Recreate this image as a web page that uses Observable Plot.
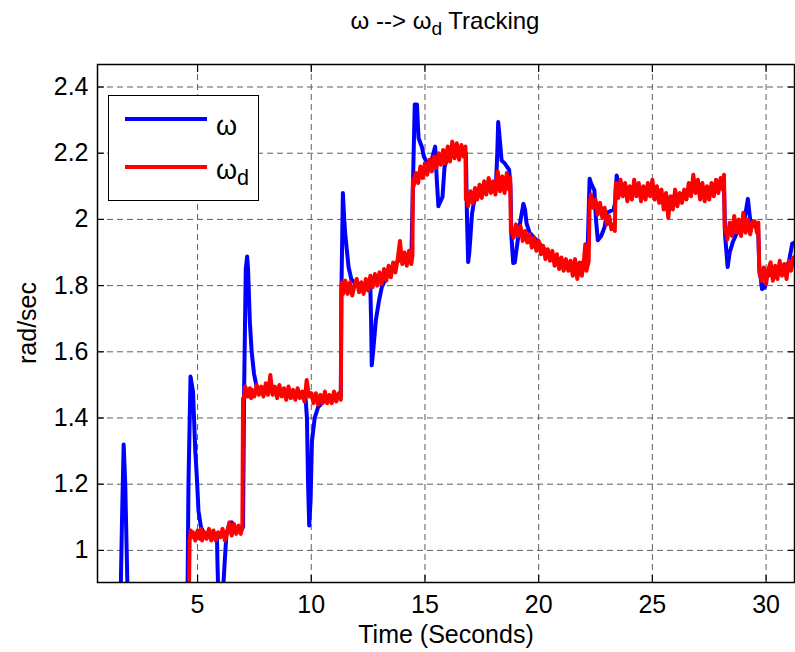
<!DOCTYPE html>
<html>
<head>
<meta charset="utf-8">
<script src="https://cdn.jsdelivr.net/npm/d3@7"></script>
<script src="https://cdn.jsdelivr.net/npm/@observablehq/plot@0.6"></script>
<style>
  html, body { margin: 0; padding: 0; background: #fff; }
  #wrap { position: relative; width: 795px; height: 652px; overflow: hidden; font-family: "Liberation Sans", Arial, sans-serif; }
  #wrap svg { position: absolute; left: 0; top: 0; }
  .lbl { position: absolute; color: #000; white-space: nowrap; line-height: 1; }
  #title { left: 0; width: 890px; top: 9px; text-align: center; font-size: 24px; }
  #xlabel { left: 97px; width: 698px; top: 622px; text-align: center; font-size: 25px; }
  #ylabel { left: 27px; top: 323px; font-size: 25px; transform: translate(-50%, -50%) rotate(-90deg); }
  #legend { position: absolute; left: 108px; top: 95px; width: 151px; height: 106px; box-sizing: border-box; border: 1.5px solid #000; background: #fff; }
  .sw { position: absolute; left: 16px; width: 82px; height: 4px; }
  .lt { position: absolute; left: 107px; font-size: 27px; line-height: 1; }
  sub { font-size: 0.8em; vertical-align: -0.3em; line-height: 0; }
</style>
</head>
<body>
<div id="wrap">
  <div id="chart"></div>
  <div id="title" class="lbl">ω --&gt; ω<sub>d</sub> Tracking</div>
  <div id="xlabel" class="lbl">Time (Seconds)</div>
  <div id="ylabel" class="lbl">rad/sec</div>
  <div id="legend">
    <div class="sw" style="top:21px;background:#0000ff"></div>
    <div class="lt" style="top:17px">ω</div>
    <div class="sw" style="top:69px;background:#ff0000"></div>
    <div class="lt" style="top:61px">ω<sub>d</sub></div>
  </div>
</div>
<script>
// x tick values (seconds) and y tick values (rad/sec)
const xTicks = [5, 10, 15, 20, 25, 30];
const yTicks = [1, 1.2, 1.4, 1.6, 1.8, 2, 2.2, 2.4];

// measured speed ω : [time, rad/sec]
const omega = [
  [0.6,0.8],[1.6,0.8],[1.68,1.1],[1.75,1.32],[1.82,1.2],[1.93,0.85],[2.5,0.8],[4.55,0.8],
  [4.6,1.2],[4.69,1.525],[4.8,1.48],[4.9,1.3],[4.97,1.22],[5.04,1.12],[5.15,1.07],[5.3,1.05],
  [5.5,1.05],[5.7,1.045],[5.85,1.05],[5.88,0.95],[5.92,0.85],[6.1,0.85],[6.18,0.95],[6.27,1.05],
  [6.4,1.08],[6.5,1.085],[6.6,1.07],[6.75,1.06],[6.9,1.06],[7.0,1.07],[7.05,1.5],[7.12,1.85],
  [7.18,1.888],[7.22,1.85],[7.3,1.69],[7.38,1.6],[7.48,1.535],[7.58,1.5],[7.7,1.48],[8.0,1.485],
  [8.5,1.48],[9.0,1.475],[9.5,1.465],[9.75,1.46],[9.81,1.4],[9.86,1.2],[9.91,1.075],[9.97,1.15],
  [10.03,1.33],[10.15,1.4],[10.3,1.433],[10.4,1.44],[10.6,1.455],[11.0,1.46],[11.3,1.465],
  [11.33,1.8],[11.39,2.08],[11.45,2.0],[11.49,1.958],[11.64,1.856],[11.76,1.82],[12.0,1.8],
  [12.4,1.8],[12.6,1.79],[12.63,1.7],[12.66,1.559],[12.72,1.6],[12.84,1.695],[12.98,1.755],
  [13.1,1.795],[13.3,1.825],[13.6,1.855],[14.0,1.89],[14.4,1.88],[14.47,2.1],[14.55,2.347],
  [14.65,2.347],[14.7,2.27],[14.72,2.245],[14.87,2.218],[14.95,2.19],[15.1,2.17],[15.3,2.18],
  [15.45,2.22],[15.52,2.12],[15.59,2.04],[15.65,2.05],[15.77,2.067],[15.86,2.158],[16.0,2.19],
  [16.4,2.21],[16.8,2.2],[16.85,2.0],[16.9,1.871],[16.95,1.9],[17.07,2.018],[17.2,2.07],
  [17.6,2.09],[18.0,2.1],[18.12,2.1],[18.18,2.2],[18.22,2.294],[18.28,2.25],[18.37,2.178],
  [18.5,2.17],[18.7,2.15],[18.76,2.1],[18.8,1.95],[18.88,1.868],[18.95,1.87],[19.02,1.906],
  [19.2,1.997],[19.33,2.047],[19.4,2.03],[19.47,1.987],[19.6,1.96],[20.0,1.93],[20.5,1.89],
  [21.0,1.87],[21.5,1.86],[22.0,1.87],[22.15,1.9],[22.24,2.123],[22.3,2.11],[22.45,2.088],
  [22.52,2.0],[22.6,1.937],[22.75,1.95],[22.9,1.977],[23.0,2.02],[23.3,2.03],[23.36,2.05],
  [23.43,2.133],[23.55,2.098],[23.8,2.09],[24.5,2.08],[25.0,2.09],[25.5,2.06],[26.0,2.07],
  [26.5,2.08],[27.0,2.09],[27.5,2.09],[28.0,2.1],[28.15,2.1],[28.2,1.95],[28.31,1.856],
  [28.4,1.9],[28.53,1.93],[28.7,1.957],[29.0,1.98],[29.1,2.02],[29.2,2.062],[29.3,2.0],
  [29.5,1.98],[29.65,1.97],[29.7,1.86],[29.82,1.79],[29.95,1.795],[30.01,1.826],[30.3,1.84],
  [30.8,1.85],[31.0,1.87],[31.15,1.927],[31.25,1.93]
];

// desired speed ω_d : [time, rad/sec]
const omegaD = [
  [4.62,0.85],[4.65,1.03],[4.7,1.06],[4.75,1.04],[4.8,1.055],[4.9,1.03],[5.0,1.06],[5.1,1.035],
  [5.15,1.065],[5.2,1.03],[5.3,1.055],[5.4,1.035],[5.5,1.065],[5.6,1.03],[5.7,1.06],[5.8,1.03],
  [5.9,1.055],[6.0,1.04],[6.1,1.065],[6.2,1.03],[6.3,1.05],[6.4,1.085],[6.5,1.045],[6.6,1.08],
  [6.7,1.05],[6.8,1.075],[6.9,1.05],[6.97,1.07],[7.0,1.46],
  [7.05,1.46],[7.1,1.495],[7.2,1.465],[7.3,1.49],[7.35,1.46],[7.4,1.485],[7.5,1.465],[7.6,1.5],
  [7.7,1.47],[7.8,1.495],[7.9,1.465],[8.0,1.505],[8.1,1.47],[8.2,1.53],[8.3,1.47],[8.4,1.495],
  [8.5,1.46],[8.6,1.5],[8.7,1.465],[8.8,1.49],[8.9,1.455],[9.0,1.495],[9.1,1.46],[9.2,1.485],
  [9.3,1.455],[9.4,1.49],[9.5,1.46],[9.6,1.48],[9.7,1.45],[9.8,1.515],[9.9,1.465],[10.0,1.475],
  [10.1,1.445],[10.2,1.475],[10.3,1.44],[10.4,1.47],[10.5,1.445],[10.6,1.48],[10.7,1.445],
  [10.8,1.47],[10.9,1.445],[11.0,1.48],[11.1,1.45],[11.2,1.475],[11.3,1.455],[11.32,1.79],
  [11.35,1.81],[11.4,1.775],[11.5,1.815],[11.6,1.775],[11.7,1.81],[11.8,1.77],[11.9,1.8],
  [12.0,1.82],[12.1,1.78],[12.2,1.81],[12.3,1.775],[12.4,1.82],[12.5,1.785],[12.6,1.83],
  [12.7,1.795],[12.8,1.835],[12.9,1.8],[13.0,1.84],[13.1,1.805],[13.2,1.85],[13.3,1.815],
  [13.4,1.86],[13.5,1.825],[13.6,1.87],[13.7,1.84],[13.8,1.88],[13.9,1.935],[14.0,1.865],
  [14.1,1.9],[14.2,1.86],[14.3,1.905],[14.4,1.865],[14.45,1.89],[14.47,2.12],
  [14.5,2.1],[14.6,2.14],[14.7,2.11],[14.8,2.16],[14.9,2.125],[15.0,2.17],[15.1,2.135],
  [15.2,2.18],[15.3,2.145],[15.4,2.19],[15.5,2.155],[15.6,2.2],[15.7,2.165],[15.8,2.21],
  [15.9,2.17],[16.0,2.22],[16.1,2.175],[16.2,2.235],[16.3,2.185],[16.4,2.23],[16.5,2.18],
  [16.6,2.225],[16.7,2.19],[16.78,2.22],[16.8,2.06],
  [16.85,2.075],[16.9,2.04],[17.0,2.085],[17.1,2.05],[17.2,2.095],[17.3,2.06],[17.4,2.105],
  [17.5,2.065],[17.6,2.115],[17.7,2.075],[17.8,2.125],[17.9,2.08],[18.0,2.115],[18.1,2.075],
  [18.2,2.145],[18.3,2.085],[18.4,2.13],[18.5,2.08],[18.6,2.14],[18.7,2.09],[18.75,2.125],[18.78,1.96],
  [18.8,1.975],[18.9,1.945],[19.0,1.985],[19.1,1.95],[19.2,1.98],[19.3,1.935],[19.4,1.965],
  [19.5,1.93],[19.6,1.955],[19.7,1.915],[19.8,1.945],[19.9,1.905],[20.0,1.935],[20.1,1.895],
  [20.2,1.92],[20.3,1.88],[20.4,1.91],[20.5,1.875],[20.6,1.905],[20.7,1.86],[20.8,1.895],
  [20.9,1.85],[21.0,1.885],[21.1,1.845],[21.2,1.88],[21.3,1.845],[21.4,1.875],[21.5,1.83],
  [21.6,1.88],[21.7,1.82],[21.8,1.87],[21.9,1.83],[22.0,1.885],[22.05,1.925],[22.1,1.845],
  [22.2,1.875],[22.24,2.05],
  [22.3,2.075],[22.4,2.035],[22.5,2.06],[22.6,2.015],[22.7,2.05],[22.8,2.005],[22.9,2.035],
  [23.0,1.985],[23.1,2.01],[23.2,1.97],[23.3,1.985],[23.35,1.965],[23.38,2.09],
  [23.4,2.11],[23.5,2.065],[23.6,2.12],[23.7,2.07],[23.8,2.11],[23.9,2.055],[24.0,2.1],[24.1,2.06],
  [24.2,2.12],[24.3,2.07],[24.4,2.11],[24.5,2.055],[24.6,2.1],[24.7,2.06],[24.8,2.11],[24.9,2.07],
  [25.0,2.12],[25.1,2.06],[25.2,2.1],[25.3,2.05],[25.4,2.09],[25.5,2.03],[25.6,2.08],[25.7,2.005],
  [25.8,2.07],[25.9,2.03],[26.0,2.09],[26.1,2.04],[26.2,2.08],[26.3,2.05],[26.4,2.09],[26.5,2.06],
  [26.6,2.11],[26.7,2.07],[26.8,2.135],[26.9,2.08],[27.0,2.12],[27.1,2.06],[27.2,2.11],[27.3,2.055],
  [27.4,2.1],[27.5,2.06],[27.6,2.11],[27.7,2.07],[27.8,2.12],[27.9,2.08],[28.0,2.125],[28.1,2.09],
  [28.15,2.135],[28.18,1.97],
  [28.2,1.975],[28.3,1.94],[28.4,1.99],[28.5,1.95],[28.6,2.01],[28.7,1.96],[28.8,2.0],[28.9,1.95],
  [29.0,2.02],[29.1,1.96],[29.2,2.0],[29.3,1.955],[29.4,1.99],[29.5,1.995],[29.6,1.96],[29.66,1.99],
  [29.7,1.84],
  [29.8,1.815],[29.9,1.855],[30.0,1.805],[30.1,1.85],[30.2,1.87],[30.3,1.815],[30.4,1.86],[30.5,1.82],
  [30.6,1.875],[30.7,1.83],[30.8,1.865],[30.9,1.82],[31.0,1.875],[31.1,1.845],[31.2,1.885],[31.25,1.87]
];

const toRows = arr => arr.map(([t, v]) => ({t, v}));
const fmt = d3.format("~g");
const tickFont = {fontSize: 25, fontFamily: "Liberation Sans, Arial, sans-serif"};
const grid = {stroke: "#606060", strokeOpacity: 1, strokeWidth: 1, strokeDasharray: "6,4"};

const chart = Plot.plot({
  width: 795,
  height: 652,
  marginLeft: 97,
  marginTop: 64,
  marginRight: 1,
  marginBottom: 70,
  style: {background: "#fff", color: "#000", overflow: "visible"},
  x: {domain: [0.6, 31.25], ticks: xTicks, label: null},
  y: {domain: [0.903, 2.468], ticks: yTicks, label: null},
  marks: [
    Plot.gridX(xTicks, grid),
    Plot.gridY(yTicks, grid),
    Plot.line(toRows(omega), {x: "t", y: "v", stroke: "#0000ff", strokeWidth: 4, strokeLinejoin: "round", clip: true}),
    Plot.line(toRows(omegaD), {x: "t", y: "v", stroke: "#ff0000", strokeWidth: 4, strokeLinejoin: "round", clip: true}),
    Plot.axisX(xTicks, {anchor: "bottom", tickSize: 0, tickPadding: 13, tickFormat: fmt, label: null, ...tickFont}),
    Plot.axisY(yTicks, {anchor: "left", tickSize: 0, tickPadding: 9, tickFormat: fmt, label: null, ...tickFont}),
    Plot.axisX(xTicks, {anchor: "bottom", tickSize: -7, tickFormat: () => "", label: null, strokeWidth: 1.2}),
    Plot.axisX(xTicks, {anchor: "top", tickSize: -7, tickFormat: () => "", label: null, strokeWidth: 1.2}),
    Plot.axisY(yTicks, {anchor: "left", tickSize: -7, tickFormat: () => "", label: null, strokeWidth: 1.2}),
    Plot.axisY(yTicks, {anchor: "right", tickSize: -7, tickFormat: () => "", label: null, strokeWidth: 1.2}),
    Plot.frame({stroke: "#000", strokeWidth: 1.5})
  ]
});
document.getElementById("chart").appendChild(chart);
</script>
</body>
</html>
